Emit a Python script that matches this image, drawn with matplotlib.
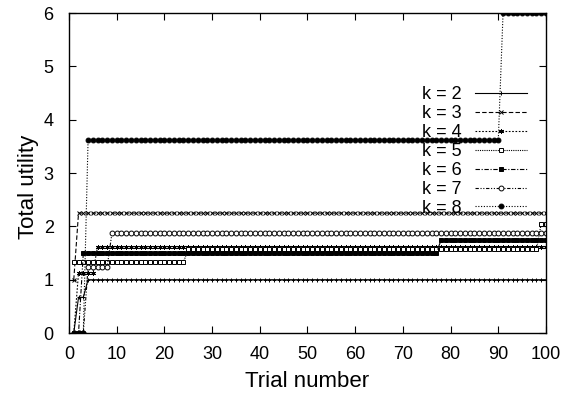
import matplotlib
matplotlib.use('Agg')
import matplotlib.pyplot as plt

plt.rcParams['font.family'] = ['Liberation Sans', 'DejaVu Sans']

trials = list(range(1, 101))

# total utility per trial, one list per k
k2 = [0.0, 0.67, 0.67] + [1.0] * 97
k3 = [1.0] + [2.25] * 99
k4 = [0.0] + [1.13] * 4 + [1.62] * 95
k5 = [1.33] * 24 + [1.57] * 74 + [2.05] * 2
k6 = [0.0, 0.0] + [1.5] * 75 + [1.74] * 23
k7 = [0.0, 0.0, 0.0] + [1.24] * 5 + [1.87] * 92
k8 = [0.0, 0.0, 0.0] + [3.62] * 87 + [6.0] * 10

labels = ['k = 2', 'k = 3', 'k = 4', 'k = 5', 'k = 6', 'k = 7', 'k = 8']
series = [k2, k3, k4, k5, k6, k7, k8]

styles = [
    dict(ls='-', marker='+', mfc='black'),
    dict(ls=(0, (4, 2)), marker='x', mfc='black'),
    dict(ls=(0, (1.5, 1.5)), marker=(6, 2, 0), mfc='black'),
    dict(ls=(0, (1, 1)), marker='s', mfc='white'),
    dict(ls=(0, (4, 1.5, 1, 1.5)), marker='s', mfc='black'),
    dict(ls=(0, (3, 1.5, 1, 1.5, 1, 1.5)), marker='o', mfc='white'),
    dict(ls=(0, (1, 1.5)), marker='o', mfc='black'),
]

fig = plt.figure(figsize=(5.74, 3.96), dpi=100)
ax = fig.add_axes([0.1202, 0.159, 0.8310, 0.808])

for y, lab, st in zip(series, labels, styles):
    ax.plot(trials, y, color='black', lw=0.8, ls=st['ls'], marker=st['marker'],
            markersize=3.5, markeredgewidth=0.7, markerfacecolor=st['mfc'],
            markeredgecolor='black', label=lab)

ax.set_xlim(0, 100)
ax.set_ylim(0, 6)
ax.set_xticks(range(0, 101, 10))
ax.set_yticks(range(0, 7))
ax.tick_params(direction='in', length=5, width=0.8, top=True, right=True,
               labelsize=13)
ax.tick_params(axis='x', pad=9)
ax.tick_params(axis='y', pad=11)
for s in ax.spines.values():
    s.set_linewidth(1.0)

ax.set_xlabel('Trial number', fontsize=16, labelpad=6)
ax.set_ylabel('Total utility', fontsize=16)
ax.yaxis.set_label_coords(-0.063, 0.456)

ax.legend(loc='upper right', bbox_to_anchor=(0.960, 0.771), frameon=False,
          markerfirst=False, numpoints=1, handlelength=2.9, fontsize=13,
          labelspacing=0.105, handletextpad=0.7, borderaxespad=0, borderpad=0)

fig.savefig('out.png', dpi=100)
